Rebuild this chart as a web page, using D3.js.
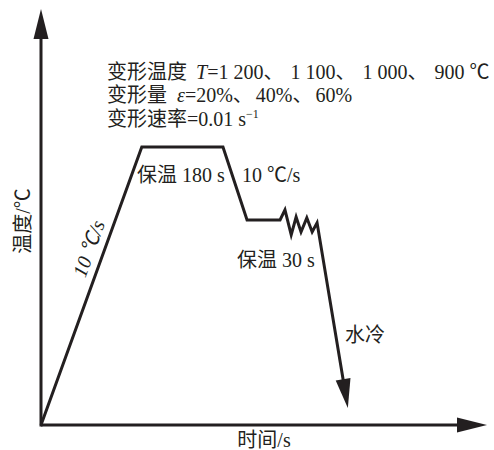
<!DOCTYPE html>
<html>
<head>
<meta charset="utf-8">
<script src="https://cdn.jsdelivr.net/npm/d3@7"></script>
<style>
  html, body { margin: 0; padding: 0; background: #fff; }
  svg text { font-family: "Liberation Serif", "Noto Sans CJK SC", serif; fill: #231f20; }
</style>
</head>
<body>
<svg id="chart" width="494" height="450"></svg>
<script>
// Schematic hot-deformation schedule: time / temperature in relative units (0–100)
const stageTime = [0, 22.6, 40.8, 46.2, 53.6, 54.7, 56.1, 57.2, 58.3, 59.6, 60.8, 61.9, 68.8];
const stageTemp = [0, 66.8, 66.8, 49.3, 49.3, 51.7, 45.7, 50.0, 46.4, 49.8, 46.4, 48.6, 4.1];

// Deformation parameter lines, split into runs (t: text, x: start, dx: extra gap, i: italic, sup: superscript)
const tempLine = [
  {t: "变形温度 ", x: 107}, {t: "T", x: 196, i: true}, {t: "=1 200、"},
  {t: "1 100、", dx: 7}, {t: "1 000、", dx: 7}, {t: "900 ℃", dx: 7}
];
const strainLine = [
  {t: "变形量 ", x: 107}, {t: "ε", x: 177, i: true}, {t: "=20%、"},
  {t: "40%、", dx: 3}, {t: "60%", dx: 3}
];
const rateLine = [
  {t: "变形速率=0.01 s", x: 107}, {t: "−1", sup: true}
];
const paramLines = [tempLine, strainLine, rateLine];

const xTitle = "时间/s";
const yTitle = "温度/℃";

const ink = "#231f20";
const svg = d3.select("#chart");

const x = d3.scaleLinear().domain([0, 100]).range([41, 487]);
const y = d3.scaleLinear().domain([0, 100]).range([425, 9]);

// Axes with arrow heads
function arrowHead(tipX, tipY, dirX, dirY, len, half) {
  const bx = tipX - dirX * len, by = tipY - dirY * len;
  const px = -dirY, py = dirX;
  return `M${tipX},${tipY}L${bx + px * half},${by + py * half}L${bx - px * half},${by - py * half}Z`;
}

svg.append("line")
  .attr("x1", x(0)).attr("y1", y(0))
  .attr("x2", x(100) - 20).attr("y2", y(0))
  .attr("stroke", ink).attr("stroke-width", 3);
svg.append("path").attr("d", arrowHead(x(100), y(0), 1, 0, 30, 7.5)).attr("fill", ink);

svg.append("line")
  .attr("x1", x(0)).attr("y1", y(0) + 1.5)
  .attr("x2", x(0)).attr("y2", y(100) + 20)
  .attr("stroke", ink).attr("stroke-width", 3);
svg.append("path").attr("d", arrowHead(x(0), y(100), 0, -1, 30, 7.5)).attr("fill", ink);

// Process curve
const pts = stageTime.map((t, k) => [x(t), y(stageTemp[k])]);
const last = pts[pts.length - 1], prev = pts[pts.length - 2];
const dx = last[0] - prev[0], dy = last[1] - prev[1];
const L = Math.hypot(dx, dy), ux = dx / L, uy = dy / L;
const linePts = pts.slice(0, -1).concat([[last[0] - ux * 22, last[1] - uy * 22]]);

svg.append("path")
  .attr("d", d3.line()(linePts))
  .attr("fill", "none").attr("stroke", ink)
  .attr("stroke-width", 3).attr("stroke-linejoin", "miter");
svg.append("path").attr("d", arrowHead(last[0], last[1], ux, uy, 29, 7.5)).attr("fill", ink);

// Deformation parameters
const fs = 20;
paramLines.forEach((parts, k) => {
  const t = svg.append("text").attr("y", 78.5 + k * 23.5).attr("font-size", fs);
  parts.forEach(p => {
    const s = t.append("tspan").text(p.t);
    if (p.x !== undefined) s.attr("x", p.x);
    if (p.dx !== undefined) s.attr("dx", p.dx);
    if (p.i) s.attr("font-style", "italic");
    if (p.sup) s.attr("font-size", 12).attr("dy", -8);
  });
});

function label(txt, px, py, anchor) {
  return svg.append("text").attr("x", px).attr("y", py)
    .attr("font-size", fs).attr("text-anchor", anchor || "start").text(txt);
}

label("保温 180 s", 137, 182);
label("10 ℃/s", 242, 182);
label("保温 30 s", 237, 267);
label("水冷", 345, 342);
label(xTitle, 264, 447, "middle");

svg.append("text")
  .attr("transform", "translate(30,221) rotate(-90)")
  .attr("font-size", fs).attr("text-anchor", "middle").text(yTitle);

// Heating-rate label along the ramp
const ang = Math.atan2(pts[1][1] - pts[0][1], pts[1][0] - pts[0][0]) * 180 / Math.PI;
svg.append("text")
  .attr("transform", `translate(98,252) rotate(${ang})`)
  .attr("font-size", fs).attr("text-anchor", "middle").attr("dy", -3)
  .attr("font-style", "italic")
  .text("10 ℃/s");
</script>
</body>
</html>
